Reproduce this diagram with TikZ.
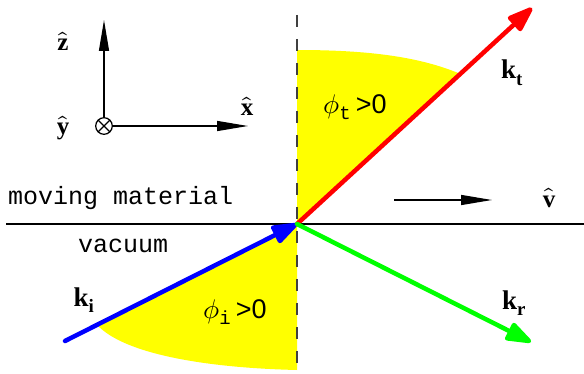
\documentclass[tikz,border=0pt]{standalone}
\usepackage{fontspec}
\usepackage{unicode-math}
\setmainfont{Liberation Serif}
\setsansfont{Liberation Sans}
\setmonofont{Liberation Mono}
\usetikzlibrary{arrows.meta,calc}
\definecolor{sunyellow}{RGB}{255,255,0}
\definecolor{kred}{RGB}{255,0,0}
\definecolor{kblue}{RGB}{0,0,255}
\definecolor{kgreen}{RGB}{0,255,0}
\tikzset{
  axisarrow/.style={line width=1.3pt,-{Triangle[length=31pt,width=10pt]}},
  wavevec/.style={line width=4.5pt,line cap=round,-{Triangle[length=30pt,width=20pt,round]}},
  hatlabel/.style={inner sep=0pt,font=\fontsize{25}{30}\selectfont},
  klabel/.style={inner sep=0pt,font=\fontsize{27}{31}\selectfont},
  anglelabel/.style={inner sep=0pt,font=\fontsize{27}{31}\selectfont},
  medium/.style={inner sep=0pt,font=\fontsize{25}{28}\selectfont\ttfamily},
  wedge/.style={fill=sunyellow,draw=none}
}
\begin{document}
\begin{tikzpicture}[x=1pt,y=-1pt]
\useasboundingbox (0,0) rectangle (584,374);
% key points
\coordinate (O) at (297,224);
\coordinate (ttip) at (532,8);
\coordinate (itail) at (65,341);
\coordinate (rtip) at (531,342);
\coordinate (ttop) at (297,50);
\coordinate (ibot) at (297,370);
\coordinate (tcross) at ($(O)!0.695!(ttip)$);
\coordinate (icross) at ($(itail)!0.138!(O)$);
% yellow angle wedges
\fill[wedge] (O) -- (ttop) .. controls (370,50) and (420,57) .. (tcross) -- cycle;
\fill[wedge] (O) -- (icross) .. controls (125,355) and (210,368) .. (ibot) -- cycle;
% normal (dashed) and interface
\coordinate (ntop) at (297,15);
\draw[line width=1.4pt,black!75,dash pattern=on 12pt off 12pt] (ntop) -- (ibot);
\coordinate (ileft) at (6,224);
\coordinate (iright) at (584,224);
\draw[line width=1.3pt] (ileft) -- (iright);
% coordinate axes
\coordinate (ax) at (104,126);
\draw[line width=1.2pt] (ax) circle (8.3pt);
\draw[line width=1.2pt] ($(ax)+(-5.9,-5.9)$) -- ($(ax)+(5.9,5.9)$);
\draw[line width=1.2pt] ($(ax)+(-5.9,5.9)$) -- ($(ax)+(5.9,-5.9)$);
\coordinate (zend) at (104,20);
\coordinate (xend) at (248,126);
\draw[axisarrow] ($(ax)+(0,-8.3)$) -- (zend);
\draw[axisarrow] ($(ax)+(8.3,0)$) -- (xend);
\node[hatlabel] (zl) at (63,41) {$\hat{\textbf{z}}$};
\node[hatlabel] (yl) at (63,128) {$\hat{\textbf{y}}$};
\node[hatlabel] (xl) at (247,106) {$\hat{\textbf{x}}$};
% velocity
\coordinate (vs) at (394,200);
\coordinate (ve) at (492,200);
\draw[axisarrow] (vs) -- (ve);
\node[hatlabel] (vl) at (549,198) {$\hat{\textbf{v}}$};
% media labels
\node[medium,anchor=base west] (mm) at (8,205) {moving material};
\node[medium,anchor=base west] (vac) at (78,253) {vacuum};
% wave vectors
\draw[wavevec,draw=kred,fill=kred] (O) -- (ttip);
\draw[wavevec,draw=kblue,fill=kblue] (itail) -- (O);
\draw[wavevec,draw=kgreen,fill=kgreen] (O) -- (rtip);
\node[klabel] (kt) at (512,73) {$\textbf{k}_{\textbf{t}}$};
\node[klabel] (ki) at (84,300) {$\textbf{k}_{\textbf{i}}$};
\node[klabel] (kr) at (514,303) {$\textbf{k}_{\textbf{r}}$};
% angle labels
\node[anglelabel] (pt) at (355,107) {$\phi_{\texttt{t}}$\,\textsf{>0}};
\node[anglelabel] (pi) at (235,312) {$\phi_{\texttt{i}}$\,\textsf{>0}};
\end{tikzpicture}
\end{document}
